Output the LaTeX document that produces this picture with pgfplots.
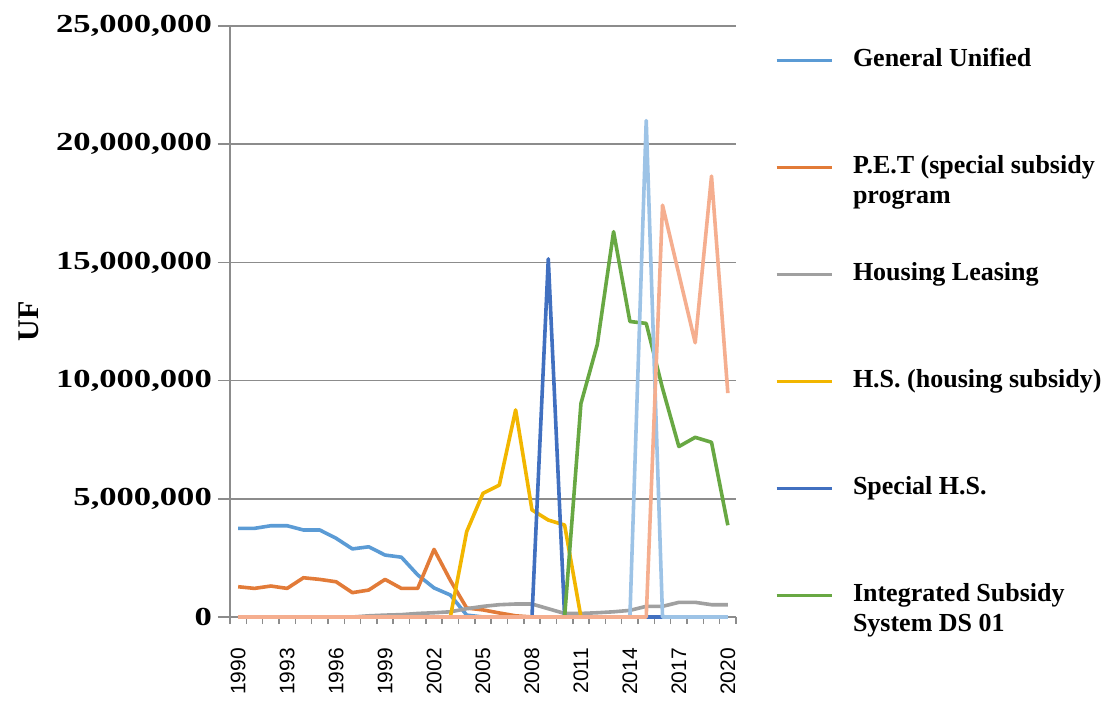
\documentclass[border=0pt]{standalone}
\usepackage{fontspec}
\setmainfont{Liberation Serif}
\newfontfamily\tickfont[FakeStretch=1.33]{Liberation Serif}
\newfontfamily\sansf{Liberation Sans}
\usepackage{pgfplots}
\usepackage{pgfplotstable}
\pgfplotsset{compat=1.18}
\definecolor{cGU}{HTML}{5B9BD5}
\definecolor{cPET}{HTML}{E27B38}
\definecolor{cHL}{HTML}{A0A0A0}
\definecolor{cHS}{HTML}{F2B600}
\definecolor{cSHS}{HTML}{4170C0}
\definecolor{cISS}{HTML}{68A843}
\definecolor{cLB}{HTML}{9DC3E6}
\definecolor{cSAL}{HTML}{F5AE8F}
\definecolor{gridc}{HTML}{8C8C8C}
\pgfplotstableread{
x GU PET HL HS SHS ISS LB SAL
0 3750000 1280000 0 0 0 0 0 0
1 3750000 1210000 0 0 0 0 0 0
2 3860000 1310000 0 0 0 0 0 0
3 3860000 1210000 0 0 0 0 0 0
4 3680000 1660000 0 0 0 0 0 0
5 3680000 1590000 0 0 0 0 0 0
6 3330000 1490000 0 0 0 0 0 0
7 2880000 1030000 0 0 0 0 0 0
8 2970000 1140000 50000 0 0 0 0 0
9 2620000 1590000 80000 0 0 0 0 0
10 2530000 1210000 100000 0 0 0 0 0
11 1780000 1210000 150000 0 0 0 0 0
12 1230000 2860000 180000 0 0 0 0 0
13 930000 1550000 220000 0 0 0 0 0
14 80000 380000 350000 3610000 0 0 0 0
15 0 300000 450000 5230000 0 0 0 0
16 0 170000 520000 5580000 0 0 0 0
17 0 50000 550000 8760000 0 0 0 0
18 0 0 550000 4530000 0 0 0 0
19 0 0 350000 4100000 15150000 0 0 0
20 0 0 150000 3890000 0 0 0 0
21 0 0 150000 0 0 9030000 0 0
22 0 0 180000 0 0 11520000 0 0
23 0 0 220000 0 0 16300000 0 0
24 0 0 280000 0 0 12500000 0 0
25 0 0 450000 0 0 12420000 21000000 0
26 0 0 450000 0 0 9670000 0 17420000
27 0 0 620000 0 0 7210000 0 14500000
28 0 0 620000 0 0 7600000 0 11600000
29 0 0 520000 0 0 7390000 0 18650000
30 0 0 520000 0 0 3880000 0 9470000
}\datatable
\begin{document}
\begin{tikzpicture}
\path[use as bounding box] (0,0) rectangle (1109bp,703bp);
\begin{axis}[
  at={(230bp,86bp)}, anchor=south west,
  scale only axis, width=506bp, height=591bp,
  xmin=-0.5, xmax=30.5, ymin=0, ymax=25000000,
  clip=false,
  axis lines*=left,
  axis line style={draw=gridc, line width=1.5bp},
  ymajorgrids, grid style={draw=gridc, line width=1.5bp},
  ytick={0,5000000,10000000,15000000,20000000,25000000},
  scaled y ticks=false,
  tick align=outside, major tick length=12bp, minor tick length=7bp,
  tick style={draw=gridc, line width=1.5bp},
  xtick={0,3,...,30},
  xticklabels={1990,1993,1996,1999,2002,2005,2008,2011,2014,2017,2020},
  major x tick style={draw=none},
  minor xtick={-0.5,0.5,...,30.5},
  xticklabel style={font=\sansf\fontsize{21bp}{21bp}\selectfont, rotate=90, anchor=east, inner sep=0pt, xshift=-19bp},
  yticklabel style={font=\tickfont\bfseries\fontsize{26bp}{26bp}\selectfont, anchor=east, inner sep=0pt, xshift=-6bp,
    /pgf/number format/fixed, /pgf/number format/1000 sep={,}, /pgf/number format/assume math mode=true},
  ylabel={UF},
  every axis y label/.style={at={(axis description cs:-0.397,0.5)}, rotate=90, anchor=center, font=\bfseries\fontsize{30bp}{30bp}\selectfont},
  legend cell align=left,
  legend image code/.code={\draw[#1, line width=2.8bp] (-3bp,0bp) -- (52bp,0bp);},
  legend style={at={(axis description cs:1,1)}, anchor=north west, xshift=39bp, yshift=-20bp,
    draw=none, fill=none, inner sep=0pt, row sep=79bp, column sep=18bp,
    font=\bfseries\fontsize{26bp}{30bp}\selectfont,
    nodes={text height=18bp, text depth=6bp, inner sep=2bp, anchor=west}},
  every axis plot/.append style={line width=3.6bp, line join=round, no marks},
]
\addplot[cGU] table[x=x, y=GU] {\datatable};
\addlegendentry{General Unified}
\addplot[cPET] table[x=x, y=PET] {\datatable};
\addlegendentry{\smash{\begin{tabular}[t]{@{}l@{}}P.E.T (special subsidy\\program\end{tabular}}}
\addplot[cHL] table[x=x, y=HL] {\datatable};
\addlegendentry{Housing Leasing}
\addplot[cHS] table[x=x, y=HS] {\datatable};
\addlegendentry{H.S. (housing subsidy)}
\addplot[cSHS] table[x=x, y=SHS] {\datatable};
\addlegendentry{Special H.S.}
\addplot[cISS] table[x=x, y=ISS] {\datatable};
\addlegendentry{\smash{\begin{tabular}[t]{@{}l@{}}Integrated Subsidy\\System DS 01\end{tabular}}}
\addplot[cLB, forget plot] table[x=x, y=LB] {\datatable};
\addplot[cSAL, forget plot] table[x=x, y=SAL] {\datatable};
\end{axis}
\end{tikzpicture}
\end{document}
